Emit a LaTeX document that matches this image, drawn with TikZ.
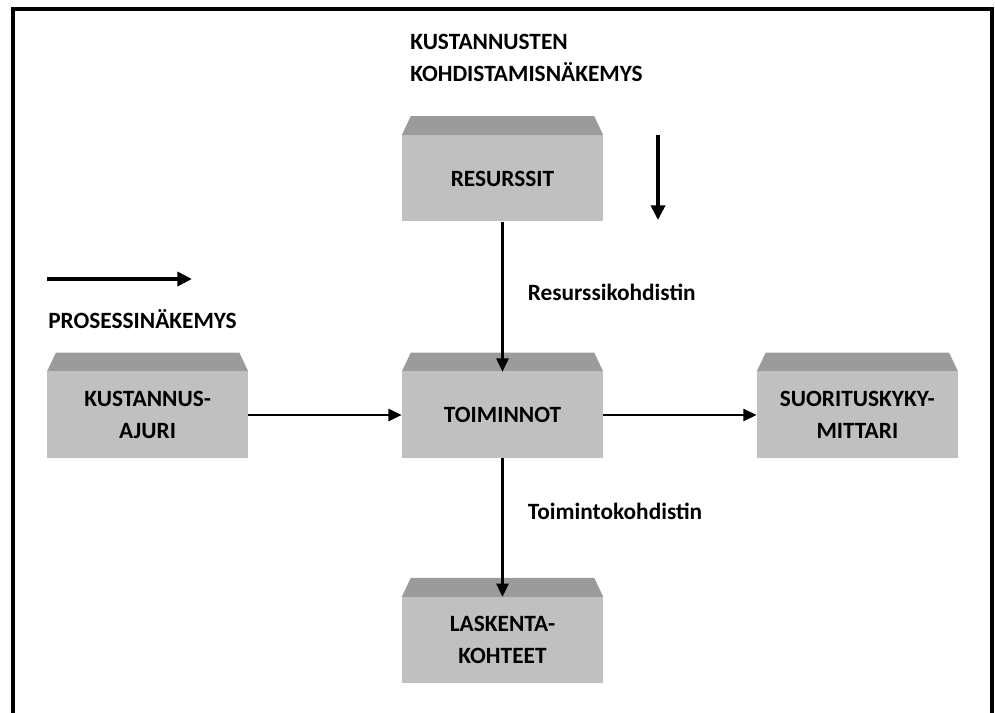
\documentclass[tikz,border=0pt]{standalone}
\usepackage{fontspec}
\setmainfont{Carlito}
\usetikzlibrary{arrows.meta,positioning}
\definecolor{frontgray}{RGB}{192,192,192}
\definecolor{topgray}{RGB}{155,155,155}

\begin{document}
\begin{tikzpicture}[%
    x=0.75pt, y=-0.75pt,              % pixel-like units, y runs downwards
    >={Triangle[length=10pt,width=9pt]},
    node distance=112.5pt and 115pt,  % spacing round the middle box
    ]
% -------------------------------------------------
% Styles
\tikzset{
  lbl/.style={font=\fontsize{17.5}{24}\selectfont\bfseries, inner sep=0pt},
  box/.style={lbl, fill=frontgray, align=center,
    minimum width=150.75pt, minimum height=64.5pt},
  link/.style={->, line width=2pt},
  view/.style={->, line width=3pt, >={Triangle[length=11pt,width=10.5pt]}},
  frame/.style={line width=3pt},
}
% -------------------------------------------------
\useasboundingbox (0,0) rectangle (995,713);
\draw[frame] (13,713) -- (13,9.5) -- (992,9.5) -- (992,713);

% Boxes, placed round the middle one
\node[box] (toi) at (502.5,415) {TOIMINNOT};
\node[box, above=of toi] (res) {RESURSSIT};
\node[box, left=of toi] (kus) {KUSTANNUS-\\AJURI};
\node[box, right=of toi] (suo) {SUORITUSKYKY-\\MITTARI};
\node[box, below=104pt of toi] (las) {LASKENTA-\\KOHTEET};

% Darker top face on each box
\foreach \b in {toi,res,kus,suo,las}
  \fill[topgray] (\b.north west) -- ++(9,-19)
    -- ([shift={(-9,-19)}]\b.north east) -- (\b.north east) -- cycle;

% View captions
\node[lbl, align=left, anchor=base west] (kview) at (410,82)
  {KUSTANNUSTEN\\KOHDISTAMISNÄKEMYS};
\node[lbl, anchor=base west] (pview) at (48,328) {PROSESSINÄKEMYS};

% View arrows
\coordinate (kv1) at (658,135);
\coordinate (kv2) at (658,220);
\coordinate (pv1) at (47,279);
\coordinate (pv2) at (192,279);
\draw[view] (kv1) -- (kv2);
\draw[view] (pv1) -- (pv2);

% Connectors
\draw[link] (res) -- node[lbl, right=18pt, pos=.47] {Resurssikohdistin} (toi);
\draw[link] (kus) -- (toi);
\draw[link] (toi) -- (suo);
\draw[link] (toi) -- node[lbl, right=18pt, pos=.38] {Toimintokohdistin} (las);

% -------------------------------------------------
\end{tikzpicture}
\end{document}
